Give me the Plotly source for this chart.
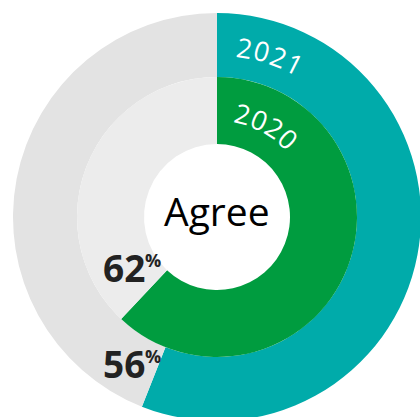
import math
import plotly.graph_objects as go

# Survey data: share answering "Agree" by year
years = ["2021", "2020"]
agree_pct = [56, 62]
center_label = "Agree"

ring_colors = {"2021": "#00ABAA", "2020": "#009C3F"}
rest_colors = {"2021": "#E3E3E3", "2020": "#ECECEC"}

# Canvas and ring geometry (pixels)
W = H = 440
CX, CY = 217, 217
ring_radii = {"2021": (204, 140), "2020": (140, 73)}   # (outer, inner)
label_mid_angle = {"2021": 18.0, "2020": 28.0}          # degrees clockwise from 12 o'clock
CHAR_STEP = 17.5                                        # arc spacing between year glyphs (px)

FONT = "Open Sans, DejaVu Sans, sans-serif"
DARK = "#222222"


def fx(px):
    return px / W


def fy(py):
    return 1 - py / H


fig = go.Figure()

for year, pct in zip(years, agree_pct):
    ro, ri = ring_radii[year]
    fig.add_trace(go.Pie(
        values=[pct, 100 - pct],
        labels=["Agree", "Other"],
        marker=dict(colors=[ring_colors[year], rest_colors[year]],
                    line=dict(width=0)),
        hole=ri / ro,
        sort=False,
        direction="clockwise",
        rotation=0,
        textinfo="none",
        hoverinfo="skip",
        showlegend=False,
        domain=dict(x=[fx(CX - ro), fx(CX + ro)],
                    y=[fy(CY + ro), fy(CY - ro)]),
    ))

annotations = []

# Year names set along each ring
for year in years:
    ro, ri = ring_radii[year]
    r = (ro + ri) / 2
    step = math.degrees(CHAR_STEP / r)
    n = len(year)
    for i, ch in enumerate(year):
        ang = label_mid_angle[year] + (i - (n - 1) / 2) * step
        a = math.radians(ang)
        x = CX + r * math.sin(a)
        y = CY - r * math.cos(a)
        annotations.append(dict(
            x=fx(x), y=fy(y), xref="paper", yref="paper",
            text=ch, showarrow=False, textangle=ang,
            xanchor="center", yanchor="middle",
            font=dict(family=FONT, size=27, color="white"),
        ))

# Centre caption
annotations.append(dict(
    x=fx(CX), y=fy(211), xref="paper", yref="paper",
    text=center_label, showarrow=False,
    xanchor="center", yanchor="middle",
    font=dict(family=FONT, size=39, color="black"),
))

# Percentage values next to the end of each ring
pct_pos = {"2020": (123.5, 267), "2021": (123.5, 363)}
for year, pct in zip(years, agree_pct):
    x, y = pct_pos[year]
    annotations.append(dict(
        x=fx(x), y=fy(y), xref="paper", yref="paper",
        text=f"<b>{pct}</b>", showarrow=False,
        xanchor="center", yanchor="middle",
        font=dict(family=FONT, size=37, color=DARK),
    ))
    annotations.append(dict(
        x=fx(x + 19), y=fy(y - 7), xref="paper", yref="paper",
        text="<b>%</b>", showarrow=False,
        xanchor="left", yanchor="middle",
        font=dict(family=FONT, size=18, color=DARK),
    ))

fig.update_layout(
    width=W, height=H,
    margin=dict(l=0, r=0, t=0, b=0),
    paper_bgcolor="white",
    plot_bgcolor="white",
    annotations=annotations,
)

fig.write_html("out.html", config={"displayModeBar": False},
               post_script="document.body.style.overflow='hidden';")
